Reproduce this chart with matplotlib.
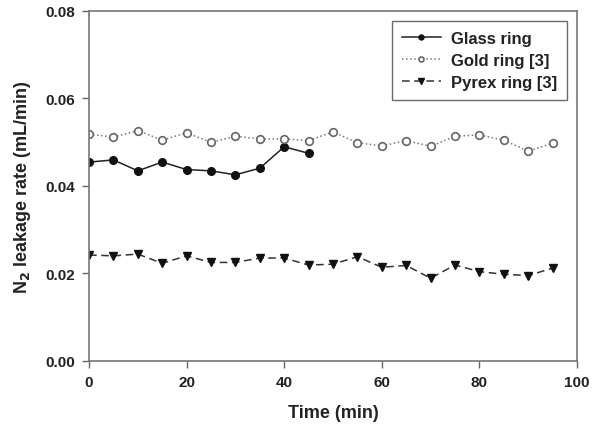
import numpy as np
import matplotlib
matplotlib.use("Agg")
import matplotlib.pyplot as plt

plt.rcParams['font.family'] = ['Liberation Sans', 'DejaVu Sans']
plt.rcParams['font.weight'] = 'bold'

# data
time_glass = [0, 5, 10, 15, 20, 25, 30, 35, 40, 45]
glass_ring = [0.0454, 0.0459, 0.0434, 0.0454, 0.0437, 0.0434, 0.0425, 0.0440, 0.0489, 0.0474]

time_ref = [0, 5, 10, 15, 20, 25, 30, 35, 40, 45, 50, 55, 60, 65, 70, 75, 80, 85, 90, 95]
gold_ring = [0.0518, 0.0511, 0.0526, 0.0504, 0.0521, 0.0499, 0.0513, 0.0507, 0.0507, 0.0503,
             0.0523, 0.0498, 0.0491, 0.0503, 0.0490, 0.0513, 0.0516, 0.0504, 0.0479, 0.0497]
pyrex_ring = [0.0242, 0.0240, 0.0244, 0.0223, 0.0240, 0.0225, 0.0225, 0.0235, 0.0235, 0.0219,
              0.0221, 0.0238, 0.0214, 0.0218, 0.0189, 0.0219, 0.0204, 0.0198, 0.0195, 0.0212]

x_ticks = [0, 20, 40, 60, 80, 100]
y_ticks = [0.00, 0.02, 0.04, 0.06, 0.08]

fig = plt.figure(figsize=(5.92, 4.31), dpi=100)
ax = fig.add_axes([89 / 592, 1 - 362 / 431, (577 - 89) / 592, (362 - 11.5) / 431])

ax.plot(time_glass, glass_ring, color='#222222', lw=1.1, marker='o', ms=5.5,
        mfc='#111111', mec='#111111', label='Glass ring')
ax.plot(time_ref, gold_ring, color='#777777', lw=1.1, ls=':', marker='o', ms=5.5,
        mfc='white', mec='#666666', mew=1.2, label='Gold ring [3]')
ax.plot(time_ref, pyrex_ring, color='#333333', lw=1.1, ls=(0, (5, 3)), marker='v', ms=6,
        mfc='#111111', mec='#111111', label='Pyrex ring [3]')

ax.set_xlim(0, 100)
ax.set_ylim(0, 0.08)
ax.set_xticks(x_ticks)
ax.set_yticks(y_ticks)
ax.set_xticklabels([str(t) for t in x_ticks])
ax.set_yticklabels(['%.2f' % t for t in y_ticks])
ax.tick_params(direction='out', length=5, width=1, color='#666666',
               labelsize=11, labelcolor='#222222', pad=5)
for s in ax.spines.values():
    s.set_color('#777777')
    s.set_linewidth(1.2)

ax.set_xlabel('Time (min)', fontsize=13, fontweight='bold', color='#222222', labelpad=11)
ax.set_ylabel('N$_\\mathbf{2}$ leakage rate (mL/min)', fontsize=13, fontweight='bold',
              color='#222222', labelpad=9)

leg = ax.legend(loc='upper right', bbox_to_anchor=(0.9795, 0.971), fontsize=12,
                frameon=True, fancybox=False, edgecolor='#444444', handlelength=2.35,
                markerscale=0.65, borderpad=0.6, labelspacing=0.42, handletextpad=0.6,
                borderaxespad=0)
leg.get_frame().set_linewidth(1.0)
for t in leg.get_texts():
    t.set_color('#222222')

fig.savefig('out.png', dpi=100)
